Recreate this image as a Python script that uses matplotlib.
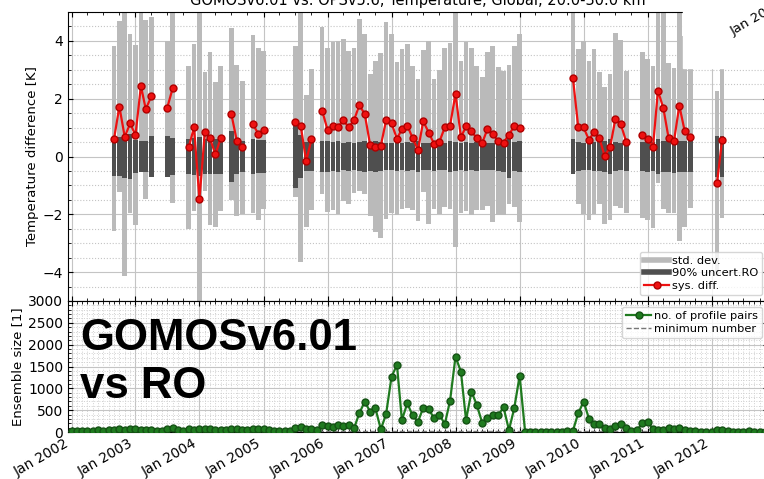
import numpy as np
import pandas as pd
import matplotlib
matplotlib.use('Agg')
import matplotlib.pyplot as plt
import matplotlib.dates as mdates
from matplotlib.lines import Line2D
from matplotlib.patches import Rectangle
from matplotlib.ticker import MultipleLocator, AutoMinorLocator

nan = np.nan

# monthly bins, Jan 2002 .. Nov 2012
months = pd.date_range('2002-01-01', periods=131, freq='MS')

# systematic difference [K]
sys_diff = [
    nan, nan, nan, nan, nan, nan, nan, nan, 0.62, 1.73, 0.67, 1.15,      # 2002
    0.74, 2.44, 1.63, 2.09, nan, nan, 1.68, 2.36, nan, nan, 0.32, 1.01,  # 2003
    -1.48, 0.86, 0.63, 0.07, 0.63, nan, 1.47, 0.55, 0.32, nan, 1.13, 0.78,  # 2004
    0.92, nan, nan, nan, nan, nan, 1.21, 1.05, -0.16, 0.59, nan, 1.59,   # 2005
    0.92, 1.05, 1.01, 1.26, 1.01, 1.25, 1.78, 1.47, 0.40, 0.34, 0.38, 1.25,  # 2006
    1.15, 0.61, 0.95, 1.07, 0.64, 0.23, 1.22, 0.83, 0.43, 0.51, 1.01, 1.07,  # 2007
    2.17, 0.67, 1.04, 0.87, 0.64, 0.46, 0.95, 0.77, 0.53, 0.48, 0.76, 1.04,  # 2008
    0.99, nan, nan, nan, nan, nan, nan, nan, nan, nan, 2.71, 1.03,       # 2009
    1.01, 0.56, 0.86, 0.63, 0.02, 0.32, 1.29, 1.12, 0.51, nan, nan, 0.75,  # 2010
    0.59, 0.34, 2.28, 1.67, 0.63, 0.55, 1.76, 0.87, 0.67, nan, nan, nan,   # 2011
    nan, -0.92, 0.57, nan, nan, nan, nan, nan, nan, nan, nan,            # 2012
]

# standard deviation of the differences [K]
std_dev = [
    nan, nan, nan, nan, nan, nan, nan, nan, 3.20, 2.96, 4.80, 3.10,
    3.11, 2.98, 3.09, 2.75, nan, nan, 2.32, 3.97, nan, nan, 2.82, 2.89,
    6.80, 2.05, 3.00, 2.50, 2.50, nan, 2.98, 2.61, 2.30, nan, 3.07, 2.99,
    2.74, nan, nan, nan, nan, nan, 2.60, 4.69, 2.29, 2.43, nan, 2.90,
    2.85, 2.90, 3.00, 2.80, 2.65, 2.50, 2.97, 2.76, 2.45, 2.95, 3.20, 3.40,
    3.10, 2.65, 2.76, 2.84, 2.50, 2.45, 2.46, 3.18, 2.24, 2.50, 2.76, 2.87,
    5.30, 2.64, 2.91, 2.90, 2.50, 2.30, 2.65, 3.05, 2.57, 2.49, 2.40, 2.80,
    3.26, nan, nan, nan, nan, nan, nan, nan, nan, nan, 2.90, 2.68,
    3.00, 2.75, 2.85, 2.28, 2.37, 2.53, 3.00, 2.90, 2.46, nan, nan, 2.88,
    2.80, 2.80, 3.20, 3.50, 2.60, 2.50, 4.70, 3.30, 2.45, nan, nan, nan,
    nan, 3.20, 2.70, nan, nan, nan, nan, nan, nan, nan, nan,
]

# 90% uncertainty of the RO reference [K]
uncert_ro = [
    nan, nan, nan, nan, nan, nan, nan, nan, 0.68, 0.66, 0.75, 0.78,
    0.58, 0.55, 0.55, 0.70, nan, nan, 0.70, 0.65, nan, nan, 0.62, 0.65,
    0.68, 0.60, 0.62, 0.60, 0.62, nan, 0.88, 0.62, 0.55, nan, 0.62, 0.57,
    0.57, nan, nan, nan, nan, nan, 1.10, 0.75, 0.50, 0.50, nan, 0.55,
    0.52, 0.50, 0.52, 0.48, 0.50, 0.47, 0.50, 0.52, 0.50, 0.55, 0.50, 0.48,
    0.47, 0.50, 0.46, 0.50, 0.48, 0.52, 0.48, 0.47, 0.50, 0.46, 0.48, 0.52,
    0.50, 0.47, 0.50, 0.48, 0.50, 0.47, 0.46, 0.48, 0.50, 0.52, 0.75, 0.50,
    0.52, nan, nan, nan, nan, nan, nan, nan, nan, nan, 0.60, 0.50,
    0.47, 0.47, 0.50, 0.50, 0.55, 0.60, 0.50, 0.48, 0.50, nan, nan, 0.50,
    0.52, 0.50, 0.60, 0.55, 0.55, 0.58, 0.55, 0.55, 0.52, nan, nan, nan,
    nan, 0.70, 0.70, nan, nan, nan, nan, nan, nan, nan, nan,
]

# number of collocated profile pairs per month
n_pairs = [
    25, 30, 20, 28, 32, 35, 30, 40, 55, 60, 50, 58,
    62, 55, 48, 52, 30, 25, 70, 85, 35, 30, 60, 55,
    75, 60, 58, 50, 55, 40, 65, 70, 52, 35, 68, 62,
    80, 35, 30, 28, 25, 30, 95, 110, 80, 75, 40, 150,
    140, 125, 160, 130, 155, 84, 428, 695, 466, 542, 61, 412,
    1267, 1534, 275, 657, 380, 237, 555, 522, 313, 400, 180, 718,
    1725, 1381, 275, 924, 625, 214, 313, 389, 389, 565, 46, 542,
    1290, 8, 10, 8, 9, 10, 8, 9, 10, 12, 30, 428,
    695, 300, 180, 180, 84, 80, 137, 180, 84, 25, 35, 199,
    237, 61, 46, 46, 84, 61, 84, 46, 30, 12, 10, 8,
    10, 40, 45, 12, 10, 8, 10, 12, 8, 10, 8,
]
MIN_PAIRS = 20

GRAY = '#bababa'
DARK = '#4f4f4f'
RED = '#ee1111'
GREEN = '#1f7a1f'

W, H = 764, 479
fig = plt.figure(figsize=(W / 100, H / 100), dpi=100)


def px_box(x0, y0, x1, y1):
    return [x0 / W, 1 - y1 / H, (x1 - x0) / W, (y1 - y0) / H]


ax = fig.add_axes(px_box(68, 12, 768, 301))
ax2 = fig.add_axes(px_box(68, 301, 768, 432))

sd = np.array(sys_diff)
st = np.array(std_dev)
un = np.array(uncert_ro)
ok = ~np.isnan(sd)

ax.bar(months[ok], 2 * st[ok], bottom=sd[ok] - st[ok], width=27, color=GRAY, zorder=2)
ax.bar(months[ok], 2 * un[ok], bottom=-un[ok], width=27, color=DARK, zorder=3)
ax.plot(months, sd, '-o', color=RED, mec='#b00000', ms=5, lw=1.6, zorder=4)

ax2.plot(months, n_pairs, '-o', color=GREEN, mec='#145214', ms=5, lw=1.6, zorder=4,
         label='no. of profile pairs')
ax2.axhline(MIN_PAIRS, ls='--', color='#777777', lw=1, zorder=3, label='minimum number')

xlim = (pd.Timestamp('2001-12-12'), pd.Timestamp('2012-11-18'))
for a in (ax, ax2):
    a.set_xlim(*xlim)
    a.xaxis.set_major_locator(mdates.YearLocator())
    a.xaxis.set_major_formatter(mdates.DateFormatter('Jan %Y'))
    a.tick_params(which='both', direction='in', top=True, right=True, labelsize=10)
    a.set_axisbelow(True)
    a.grid(which='major', color='#c4c4c4', lw=0.8)

ax.xaxis.set_minor_locator(mdates.MonthLocator(bymonth=(1, 4, 7, 10)))
ax.tick_params(labelbottom=False)
ax.set_ylim(-5, 5)
ax.yaxis.set_major_locator(MultipleLocator(2))
ax.yaxis.set_minor_locator(MultipleLocator(0.5))
ax.grid(which='minor', axis='y', ls=':', color='#c4c4c4', lw=0.8)
ax.set_ylabel('Temperature difference [K]', fontsize=9.5, labelpad=3)
ax.set_title('GOMOSv6.01 vs. OPSv5.6, Temperature, Global, 20.0-30.0 km',
             fontsize=10.5, pad=5)

ax2.xaxis.set_minor_locator(mdates.MonthLocator())
ax2.set_ylim(0, 3000)
ax2.yaxis.set_major_locator(MultipleLocator(500))
ax2.yaxis.set_minor_locator(AutoMinorLocator(5))
ax2.grid(which='minor', ls=':', color='#d0d0d0', lw=0.7)
ax2.set_ylabel('Ensemble size [1]', fontsize=9.5, labelpad=3)
for lbl in ax2.get_xticklabels():
    lbl.set_rotation(30)
    lbl.set_ha('right')

handles = [Line2D([], [], color=GRAY, lw=4),
           Line2D([], [], color=DARK, lw=4),
           Line2D([], [], color=RED, marker='o', mec='#b00000', ms=5, lw=1.6)]
ax.legend(handles, ['std. dev.', '90% uncert.RO', 'sys. diff.'], loc='lower right',
          fontsize=8.2, handlelength=2.2, handletextpad=0.2, labelspacing=0.2)
ax2.legend(loc='upper right', fontsize=8.2, handlelength=2.2, handletextpad=0.2,
           labelspacing=0.2)

fig.text(80 / W, 1 - 350 / H, 'GOMOSv6.01', fontsize=31.5, fontweight='bold',
         family='Liberation Sans', va='baseline', zorder=20)
fig.text(80 / W, 1 - 398 / H, 'vs RO', fontsize=31.5, fontweight='bold',
         family='Liberation Sans', va='baseline', zorder=20)

# blank corner with a stray date label
fig.add_artist(Rectangle((683 / W, 1 - 68 / H), (W - 683) / W, 68 / H,
                         transform=fig.transFigure, color='white', zorder=10))
fig.text(733 / W, 1 - 35 / H, 'Jan 2013', rotation=30, rotation_mode='anchor',
         ha='left', va='baseline', fontsize=9.5, zorder=11)

fig.savefig('out.png', dpi=100)
